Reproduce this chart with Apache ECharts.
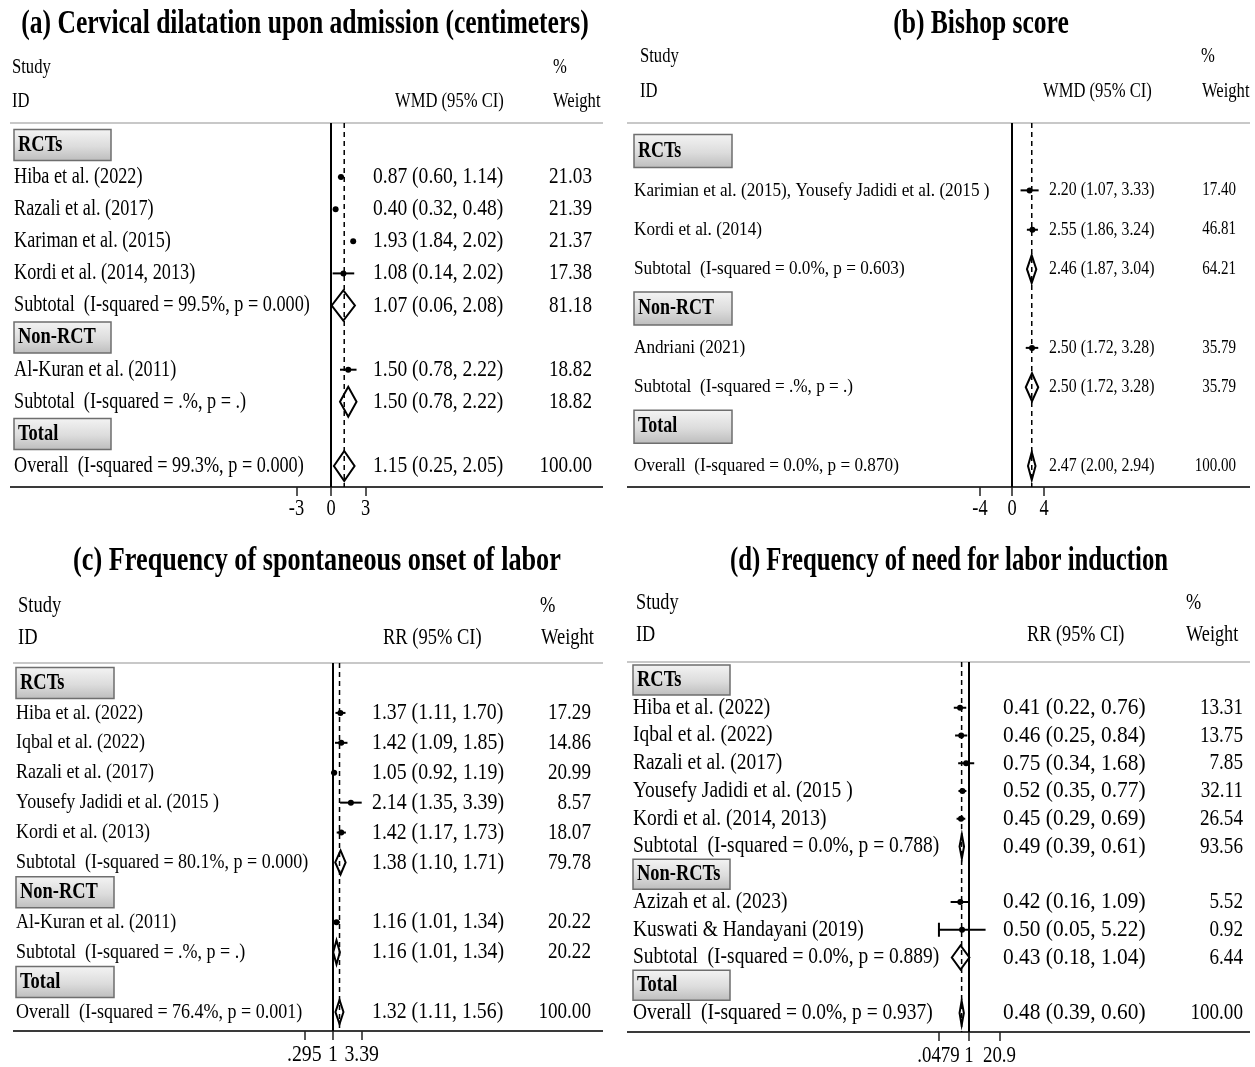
<!DOCTYPE html>
<html>
<head>
<meta charset="utf-8">
<script src="https://cdn.jsdelivr.net/npm/echarts@6/dist/echarts.min.js"></script>
<style>
  html, body { margin: 0; padding: 0; background: #fff; }
  #chart { width: 1255px; height: 1067px; }
</style>
</head>
<body>
<div id="chart"></div>
<script>
// ---------- (a) Cervical dilatation upon admission (WMD) ----------
const labelsA = ['RCTs', 'Hiba et al. (2022)', 'Razali et al. (2017)', 'Kariman et al. (2015)',
  'Kordi et al. (2014, 2013)', 'Subtotal  (I-squared = 99.5%, p = 0.000)', 'Non-RCT',
  'Al-Kuran et al. (2011)', 'Subtotal  (I-squared = .%, p = .)', 'Total',
  'Overall  (I-squared = 99.3%, p = 0.000)'];
const estA = [null, 0.87, 0.40, 1.93, 1.08, 1.07, null, 1.50, 1.50, null, 1.15];
const loA  = [null, 0.60, 0.32, 1.84, 0.14, 0.06, null, 0.78, 0.78, null, 0.25];
const hiA  = [null, 1.14, 0.48, 2.02, 2.02, 2.08, null, 2.22, 2.22, null, 2.05];
const weightA = [null, 21.03, 21.39, 21.37, 17.38, 81.18, null, 18.82, 18.82, null, 100.00];
const ticksA = [-3, 0, 3];
const tickLabelsA = ['-3', '0', '3'];

// ---------- (b) Bishop score (WMD) ----------
const labelsB = ['RCTs', 'Karimian et al. (2015), Yousefy Jadidi et al. (2015 )', 'Kordi et al. (2014)',
  'Subtotal  (I-squared = 0.0%, p = 0.603)', 'Non-RCT', 'Andriani (2021)',
  'Subtotal  (I-squared = .%, p = .)', 'Total', 'Overall  (I-squared = 0.0%, p = 0.870)'];
const estB = [null, 2.20, 2.55, 2.46, null, 2.50, 2.50, null, 2.47];
const loB  = [null, 1.07, 1.86, 1.87, null, 1.72, 1.72, null, 2.00];
const hiB  = [null, 3.33, 3.24, 3.04, null, 3.28, 3.28, null, 2.94];
const weightB = [null, 17.40, 46.81, 64.21, null, 35.79, 35.79, null, 100.00];
const ticksB = [-4, 0, 4];
const tickLabelsB = ['-4', '0', '4'];

// ---------- (c) Frequency of spontaneous onset of labor (RR) ----------
const labelsC = ['RCTs', 'Hiba et al. (2022)', 'Iqbal et al. (2022)', 'Razali et al. (2017)',
  'Yousefy Jadidi et al. (2015 )', 'Kordi et al. (2013)', 'Subtotal  (I-squared = 80.1%, p = 0.000)',
  'Non-RCT', 'Al-Kuran et al. (2011)', 'Subtotal  (I-squared = .%, p = .)', 'Total',
  'Overall  (I-squared = 76.4%, p = 0.001)'];
const estC = [null, 1.37, 1.42, 1.05, 2.14, 1.42, 1.38, null, 1.16, 1.16, null, 1.32];
const loC  = [null, 1.11, 1.09, 0.92, 1.35, 1.17, 1.10, null, 1.01, 1.01, null, 1.11];
const hiC  = [null, 1.70, 1.85, 1.19, 3.39, 1.73, 1.71, null, 1.34, 1.34, null, 1.56];
const weightC = [null, 17.29, 14.86, 20.99, 8.57, 18.07, 79.78, null, 20.22, 20.22, null, 100.00];
const ticksC = [0.295, 1, 3.39];
const tickLabelsC = ['.295', '1', '3.39'];

// ---------- (d) Frequency of need for labor induction (RR) ----------
const labelsD = ['RCTs', 'Hiba et al. (2022)', 'Iqbal et al. (2022)', 'Razali et al. (2017)',
  'Yousefy Jadidi et al. (2015 )', 'Kordi et al. (2014, 2013)', 'Subtotal  (I-squared = 0.0%, p = 0.788)',
  'Non-RCTs', 'Azizah et al. (2023)', 'Kuswati & Handayani (2019)',
  'Subtotal  (I-squared = 0.0%, p = 0.889)', 'Total', 'Overall  (I-squared = 0.0%, p = 0.937)'];
const estD = [null, 0.41, 0.46, 0.75, 0.52, 0.45, 0.49, null, 0.42, 0.50, 0.43, null, 0.48];
const loD  = [null, 0.22, 0.25, 0.34, 0.35, 0.29, 0.39, null, 0.16, 0.05, 0.18, null, 0.39];
const hiD  = [null, 0.76, 0.84, 1.68, 0.77, 0.69, 0.61, null, 1.09, 5.22, 1.04, null, 0.60];
const weightD = [null, 13.31, 13.75, 7.85, 32.11, 26.54, 93.56, null, 5.52, 0.92, 6.44, null, 100.00];
const ticksD = [0.0479, 1, 20.9];
const tickLabelsD = ['.0479', '1', '20.9'];

const SERIF = "'Liberation Serif', 'Times New Roman', 'DejaVu Serif', serif";

// Panel layout: frame, row band, text columns, forest strip and font metrics
const panels = [
  {
    title: '(a) Cervical dilatation upon admission (centimeters)', titleX: 305, titleY: 24, titleSx: 0.775,
    effectHeader: 'WMD (95% CI)',
    labels: labelsA, est: estA, lo: loA, hi: hiA, weight: weightA,
    ticks: ticksA, tickLabels: tickLabelsA, log: false, tickLabelDy: 22,
    frame: { x0: 10, x1: 603, top: 123, bottom: 487 },
    rows: { first: 145, last: 466 },
    plot: { left: 296.5, width: 69 },
    cols: { label: 14, value: 373, weight: 592 },
    head: { study: 12, y1: 67, y2: 101, pct: 553, effect: 395, weightX: 553 },
    box: { w: 97, h: 31 }, diamondH: 30,
    fonts: { label: { size: 22.5, sx: 0.81 }, value: { size: 23, sx: 0.85 }, weight: { size: 23, sx: 0.832 },
             head: { size: 21.5, sx: 0.772 }, group: { size: 22.5, sx: 0.82 }, tick: { size: 23, sx: 0.8 } }
  },
  {
    title: '(b) Bishop score', titleX: 981, titleY: 24, titleSx: 0.775,
    effectHeader: 'WMD (95% CI)',
    labels: labelsB, est: estB, lo: loB, hi: hiB, weight: weightB,
    ticks: ticksB, tickLabels: tickLabelsB, log: false, tickLabelDy: 22,
    frame: { x0: 627, x1: 1250, top: 123, bottom: 487 },
    rows: { first: 151, last: 466 },
    plot: { left: 980, width: 64 },
    cols: { label: 634, value: 1049, weight: 1236 },
    head: { study: 640, y1: 56, y2: 91, pct: 1201, effect: 1043, weightX: 1202 },
    box: { w: 98, h: 33 }, diamondH: 28,
    fonts: { label: { size: 19.5, sx: 0.882 }, value: { size: 18.5, sx: 0.855 }, weight: { size: 18, sx: 0.834 },
             head: { size: 21.5, sx: 0.772 }, group: { size: 22.5, sx: 0.8 }, tick: { size: 23, sx: 0.8 } }
  },
  {
    title: '(c) Frequency of spontaneous onset of labor', titleX: 317, titleY: 561, titleSx: 0.795,
    effectHeader: 'RR (95% CI)',
    labels: labelsC, est: estC, lo: loC, hi: hiC, weight: weightC,
    ticks: ticksC, tickLabels: tickLabelsC, log: true, tickLabelDy: 24,
    frame: { x0: 13, x1: 603, top: 663, bottom: 1031 },
    rows: { first: 683, last: 1012 },
    plot: { left: 304.3, width: 57.4 },
    cols: { label: 16, value: 372, weight: 591 },
    head: { study: 18, y1: 606, y2: 638, pct: 540, effect: 383, weightX: 541 },
    box: { w: 98, h: 31 }, diamondH: 24,
    fonts: { label: { size: 21.5, sx: 0.837 }, value: { size: 23, sx: 0.861 }, weight: { size: 23, sx: 0.832 },
             head: { size: 22.5, sx: 0.822 }, group: { size: 22.5, sx: 0.82 }, tick: { size: 23, sx: 0.86 } }
  },
  {
    title: '(d) Frequency of need for labor induction', titleX: 949, titleY: 561, titleSx: 0.75,
    effectHeader: 'RR (95% CI)',
    labels: labelsD, est: estD, lo: loD, hi: hiD, weight: weightD,
    ticks: ticksD, tickLabels: tickLabelsD, log: true, tickLabelDy: 24,
    frame: { x0: 627, x1: 1250, top: 662, bottom: 1032 },
    rows: { first: 680, last: 1013 },
    plot: { left: 938.5, width: 61 },
    cols: { label: 633, value: 1003, weight: 1243 },
    head: { study: 636, y1: 603, y2: 635, pct: 1186, effect: 1027, weightX: 1186 },
    box: { w: 97, h: 30 }, diamondH: 24,
    fonts: { label: { size: 22.5, sx: 0.865 }, value: { size: 24, sx: 0.891 }, weight: { size: 23, sx: 0.832 },
             head: { size: 22.5, sx: 0.812 }, group: { size: 22.5, sx: 0.82 }, tick: { size: 23, sx: 0.82 } }
  }
];

function txt(x, y, s, f, align, weight) {
  return {
    type: 'text', x: x, y: y, scaleX: f.sx, silent: true,
    style: {
      text: s, fontSize: f.size, fontFamily: SERIF, fontWeight: weight || 'normal', fill: '#000',
      align: align, verticalAlign: 'middle', textAlign: align, textVerticalAlign: 'middle'
    }
  };
}

const fmt2 = v => v.toFixed(2);
const boxFill = () => new echarts.graphic.LinearGradient(0, 0, 0, 1, [
  { offset: 0, color: '#f4f4f4' }, { offset: 0.55, color: '#dcdcdc' }, { offset: 1, color: '#bcbcbc' }
]);

const grids = [], xAxes = [], yAxes = [], series = [], graphics = [];

panels.forEach((p, k) => {
  const tx = v => (p.log ? Math.log(v) : v);
  // symmetric axis extent around the null value
  const half = Math.max(Math.abs(tx(p.ticks[0])), Math.abs(tx(p.ticks[2])));
  const n = p.labels.length;
  const step = (p.rows.last - p.rows.first) / (n - 1);
  const padTop = (p.rows.first - p.frame.top) / step;
  const padBot = (p.frame.bottom - p.rows.last) / step;

  grids.push({ left: p.plot.left, width: p.plot.width, top: p.frame.top,
               height: p.frame.bottom - p.frame.top, containLabel: false });
  xAxes.push({
    gridIndex: k, type: 'value', position: 'bottom', min: -half, max: half, interval: half,
    axisLine: { show: false, onZero: false }, splitLine: { show: false },
    axisTick: { show: true, inside: false, length: 9, lineStyle: { color: '#222', width: 1.5 } },
    axisLabel: { show: false }
  });
  yAxes.push({ gridIndex: k, type: 'value', inverse: true, show: false,
               min: -padTop, max: n - 1 + padBot });

  const overallIdx = n - 1;

  // null line and dashed pooled-estimate line
  series.push({
    type: 'custom', xAxisIndex: k, yAxisIndex: k, silent: true, z: 1,
    encode: { x: 0, y: 1 },
    data: [[0, 0], [tx(p.est[overallIdx]), 0]],
    renderItem: (params, api) => {
      const cs = params.coordSys;
      const x = api.coord([api.value(0), 0])[0];
      const dashed = params.dataIndex === 1;
      return {
        type: 'line',
        shape: { x1: x, y1: cs.y, x2: x, y2: cs.y + cs.height },
        style: { stroke: '#000', lineWidth: dashed ? 1.5 : 2, lineDash: dashed ? [5, 4] : null }
      };
    }
  });

  // tick labels under the axis ticks
  series.push({
    type: 'custom', xAxisIndex: k, yAxisIndex: k, silent: true, z: 3,
    encode: { x: 0, y: 1 },
    data: p.ticks.map(t => [tx(t), 0]),
    renderItem: (params, api) => {
      const cs = params.coordSys;
      const x = api.coord([api.value(0), 0])[0];
      return txt(x, cs.y + cs.height + p.tickLabelDy, p.tickLabels[params.dataIndex], p.fonts.tick, 'center');
    }
  });

  // one entry per row: group header, study or pooled estimate
  series.push({
    type: 'custom', xAxisIndex: k, yAxisIndex: k, silent: true, z: 2,
    encode: { x: 0, y: 1 },
    data: p.labels.map((_, i) => [p.est[i] == null ? 0 : tx(p.est[i]), i]),
    renderItem: (params, api) => {
      const i = params.dataIndex;
      const yPix = api.coord([0, i])[1];
      const label = p.labels[i];
      const children = [];
      if (p.est[i] == null) {
        children.push({
          type: 'rect',
          shape: { x: p.cols.label, y: yPix - p.box.h / 2, width: p.box.w, height: p.box.h },
          style: { fill: boxFill(), stroke: '#6e6e6e', lineWidth: 1.5 }
        });
        children.push(txt(p.cols.label + 4, yPix, label, p.fonts.group, 'left', 'bold'));
        return { type: 'group', children: children };
      }
      const xe = api.coord([tx(p.est[i]), i])[0];
      const xl = api.coord([tx(p.lo[i]), i])[0];
      const xh = api.coord([tx(p.hi[i]), i])[0];
      const pooled = /^(Subtotal|Overall)/.test(label);
      if (pooled) {
        const h = p.diamondH / 2;
        children.push({
          type: 'polygon',
          shape: { points: [[xl, yPix], [xe, yPix - h], [xh, yPix], [xe, yPix + h]] },
          style: { fill: 'none', stroke: '#000', lineWidth: 2 }
        });
      } else {
        children.push({ type: 'line', shape: { x1: xl, y1: yPix, x2: xh, y2: yPix },
                        style: { stroke: '#000', lineWidth: 2 } });
        children.push({ type: 'circle', shape: { cx: xe, cy: yPix, r: 3 }, style: { fill: '#000' } });
        // end bar where the interval reaches the edge of the axis
        if (tx(p.lo[i]) - (-half) < 0.1 * half) {
          children.push({ type: 'line', shape: { x1: xl, y1: yPix - 7, x2: xl, y2: yPix + 7 },
                          style: { stroke: '#000', lineWidth: 2 } });
        }
      }
      children.push(txt(p.cols.label, yPix, label, p.fonts.label, 'left'));
      children.push(txt(p.cols.value, yPix,
        fmt2(p.est[i]) + ' (' + fmt2(p.lo[i]) + ', ' + fmt2(p.hi[i]) + ')', p.fonts.value, 'left'));
      children.push(txt(p.cols.weight, yPix, fmt2(p.weight[i]), p.fonts.weight, 'right'));
      return { type: 'group', children: children };
    }
  });

  // title, column headers and frame rules
  graphics.push({
    type: 'text', x: p.titleX, y: p.titleY, scaleX: p.titleSx, silent: true,
    style: { text: p.title, fontSize: 33, fontFamily: SERIF, fontWeight: 'bold', fill: '#000',
             align: 'center', verticalAlign: 'middle', textAlign: 'center', textVerticalAlign: 'middle' }
  });
  graphics.push(txt(p.head.study, p.head.y1, 'Study', p.fonts.head, 'left'));
  graphics.push(txt(p.head.study, p.head.y2, 'ID', p.fonts.head, 'left'));
  graphics.push(txt(p.head.pct, p.head.y1, '%', p.fonts.head, 'left'));
  graphics.push(txt(p.head.effect, p.head.y2, p.effectHeader, p.fonts.head, 'left'));
  graphics.push(txt(p.head.weightX, p.head.y2, 'Weight', p.fonts.head, 'left'));
  graphics.push({ type: 'line', silent: true,
    shape: { x1: p.frame.x0, y1: p.frame.top, x2: p.frame.x1, y2: p.frame.top },
    style: { stroke: '#c8c8c8', lineWidth: 2 } });
  graphics.push({ type: 'line', silent: true,
    shape: { x1: p.frame.x0, y1: p.frame.bottom, x2: p.frame.x1, y2: p.frame.bottom },
    style: { stroke: '#3a3a3a', lineWidth: 2 } });
});

const chart = echarts.init(document.getElementById('chart'), null, { renderer: 'canvas' });
chart.setOption({
  backgroundColor: '#fff',
  animation: false,
  grid: grids,
  xAxis: xAxes,
  yAxis: yAxes,
  series: series,
  graphic: { elements: graphics }
});
</script>
</body>
</html>
